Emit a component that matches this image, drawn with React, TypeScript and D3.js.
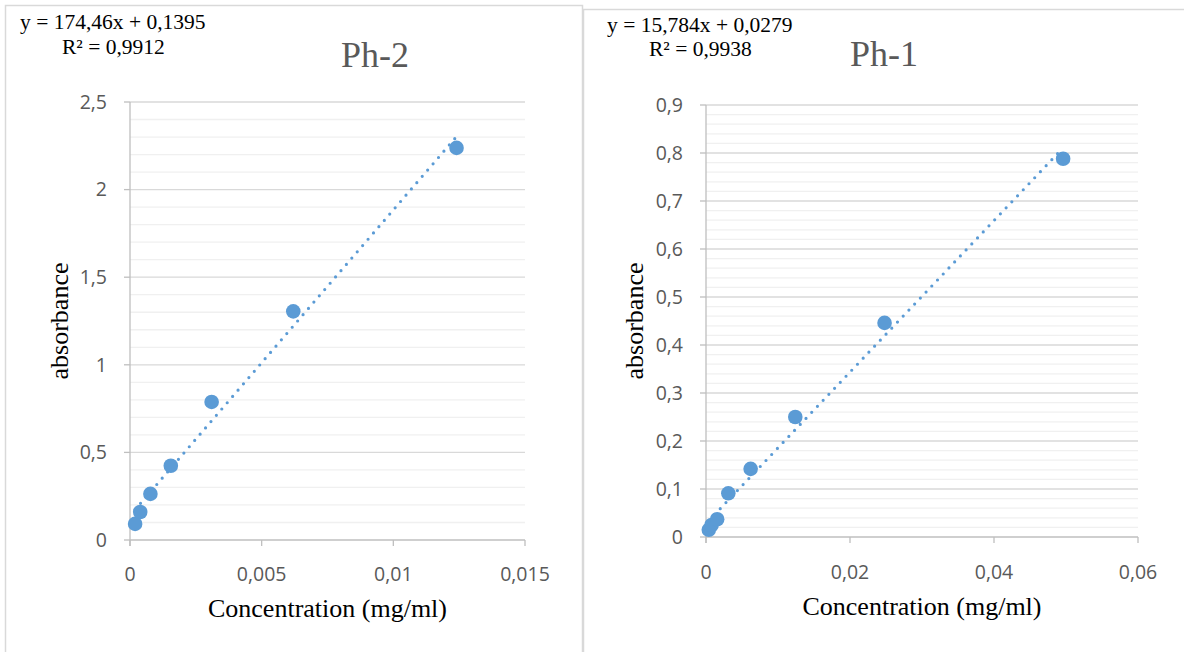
import React from "react";
import * as d3 from "d3";

// ---------- data ----------
const ph2Conc = [0.000194, 0.000388, 0.000775, 0.00155, 0.0031, 0.0062, 0.0124];
const ph2Abs = [0.092, 0.16, 0.263, 0.424, 0.788, 1.305, 2.238];
const ph2Slope = 174.46;
const ph2Intercept = 0.1395;
const ph2Equation = "y = 174,46x + 0,1395";
const ph2R2 = "R² = 0,9912";
const ph2Title = "Ph-2";
const ph2XTicks = [0, 0.005, 0.01, 0.015];
const ph2YTicks = [0, 0.5, 1, 1.5, 2, 2.5];

const ph1Conc = [0.000388, 0.000775, 0.00155, 0.0031, 0.0062, 0.0124, 0.0248, 0.0496];
const ph1Abs = [0.015, 0.025, 0.037, 0.091, 0.142, 0.25, 0.446, 0.788];
const ph1Slope = 15.784;
const ph1Intercept = 0.0279;
const ph1Equation = "y = 15,784x + 0,0279";
const ph1R2 = "R² = 0,9938";
const ph1Title = "Ph-1";
const ph1XTicks = [0, 0.02, 0.04, 0.06];
const ph1YTicks = [0, 0.1, 0.2, 0.3, 0.4, 0.5, 0.6, 0.7, 0.8, 0.9];

const xLabel = "Concentration (mg/ml)";
const yLabel = "absorbance";

const BLUE = "#5B9BD5";
const GREY_TEXT = "#595959";
const SANS = "'Open Sans', 'Noto Sans', sans-serif";
const SERIF = "'Liberation Serif', 'DejaVu Serif', serif";

const fmt = (v: number) => String(+v.toFixed(4)).replace(".", ",");

type ChartProps = {
  xs: number[];
  ys: number[];
  slope: number;
  intercept: number;
  eq: string;
  r2: string;
  title: string;
  xTicks: number[];
  yTicks: number[];
  minorStep: number;
  x0: number;
  x1: number;
  yTop: number;
  yBottom: number;
  eqX: number;
  eqY: number;
  r2X: number;
  r2Y: number;
  titleX: number;
  titleY: number;
  xLabelY: number;
  tickLabelY: number;
  yLabelX: number;
};

function Chart(p: ChartProps) {
  const xMax = p.xTicks[p.xTicks.length - 1];
  const yMax = p.yTicks[p.yTicks.length - 1];
  const x = d3.scaleLinear().domain([0, xMax]).range([p.x0, p.x1]);
  const y = d3.scaleLinear().domain([0, yMax]).range([p.yBottom, p.yTop]);
  const minor = d3.range(0, yMax + 1e-9, p.minorStep).filter(
    (v) => !p.yTicks.some((t) => Math.abs(t - v) < 1e-9)
  );
  const xmin = d3.min(p.xs)!;
  const xmaxData = d3.max(p.xs)!;
  const line = d3
    .line<number>()
    .x((d) => x(d))
    .y((d) => y(p.slope * d + p.intercept));
  const pts = p.xs.map((v, i) => ({ x: v, y: p.ys[i] }));
  return (
    <g>
      {minor.map((v) => (
        <line key={"m" + v} x1={p.x0} x2={p.x1} y1={y(v)} y2={y(v)} stroke="#f0f0f0" strokeWidth={1.3} />
      ))}
      {p.yTicks.filter((v) => v > 0).map((v) => (
        <line key={"g" + v} x1={p.x0} x2={p.x1} y1={y(v)} y2={y(v)} stroke="#d9d9d9" strokeWidth={1.3} />
      ))}
      <line x1={p.x0} x2={p.x1} y1={y(0)} y2={y(0)} stroke="#bfbfbf" strokeWidth={1.3} />
      <line x1={p.x0} x2={p.x0} y1={p.yTop} y2={y(0) + 6} stroke="#bfbfbf" strokeWidth={1.3} />
      {p.yTicks.map((v) => (
        <line key={"yt" + v} x1={p.x0 - 6} x2={p.x0} y1={y(v)} y2={y(v)} stroke="#bfbfbf" strokeWidth={1.3} />
      ))}
      {p.xTicks.map((v) => (
        <line key={"xt" + v} x1={x(v)} x2={x(v)} y1={y(0)} y2={y(0) + 6} stroke="#bfbfbf" strokeWidth={1.3} />
      ))}
      {p.yTicks.map((v) => (
        <text key={"yl" + v} x={p.x0 - 23} y={y(v)} dy="0.35em" textAnchor="end" fontFamily={SANS} fontSize={19.5} fill={GREY_TEXT}>
          {fmt(v)}
        </text>
      ))}
      {p.xTicks.map((v) => (
        <text key={"xl" + v} x={x(v)} y={p.tickLabelY} textAnchor="middle" fontFamily={SANS} fontSize={19.5} fill={GREY_TEXT}>
          {fmt(v)}
        </text>
      ))}
      <path
        d={line([xmin, xmaxData]) || ""}
        fill="none"
        stroke={BLUE}
        strokeWidth={3.2}
        strokeDasharray="0 8.3"
        strokeLinecap="round"
      />
      {pts.map((d, i) => (
        <circle key={"c" + i} cx={x(d.x)} cy={y(d.y)} r={7.3} fill={BLUE} />
      ))}
      <text x={p.titleX} y={p.titleY} textAnchor="middle" fontFamily={SERIF} fontSize={36} fill={GREY_TEXT}>
        {p.title}
      </text>
      <text x={p.eqX} y={p.eqY} fontFamily={SERIF} fontSize={21.5} fill="#000">
        {p.eq}
      </text>
      <text x={p.r2X} y={p.r2Y} fontFamily={SERIF} fontSize={21.5} fill="#000">
        {p.r2}
      </text>
      <text x={(p.x0 + p.x1) / 2} y={p.xLabelY} textAnchor="middle" fontFamily={SERIF} fontSize={26} fill="#000">
        {xLabel}
      </text>
      <text
        transform={`translate(${p.yLabelX},${(p.yTop + p.yBottom) / 2}) rotate(-90)`}
        textAnchor="middle"
        fontFamily={SERIF}
        fontSize={26}
        fill="#000"
      >
        {yLabel}
      </text>
    </g>
  );
}

export default function App() {
  return (
    <div style={{ position: "absolute", left: 0, top: 0, width: 1184, height: 652, background: "#fff" }}>
      <svg width={1184} height={652} style={{ display: "block" }}>
        <rect x={0} y={0} width={1184} height={652} fill="#fff" />
        <rect x={5.5} y={5.5} width={577} height={700} fill="#fff" stroke="#d9d9d9" strokeWidth={1.5} />
        <rect x={583.5} y={9.5} width={700} height={700} fill="#fff" stroke="#d9d9d9" strokeWidth={1.5} />
        <Chart
          xs={ph2Conc}
          ys={ph2Abs}
          slope={ph2Slope}
          intercept={ph2Intercept}
          eq={ph2Equation}
          r2={ph2R2}
          title={ph2Title}
          xTicks={ph2XTicks}
          yTicks={ph2YTicks}
          minorStep={0.1}
          x0={130}
          x1={525}
          yTop={102}
          yBottom={540}
          eqX={20}
          eqY={29}
          r2X={62}
          r2Y={54}
          titleX={375}
          titleY={67}
          xLabelY={617}
          tickLabelY={581}
          yLabelX={68}
        />
        <Chart
          xs={ph1Conc}
          ys={ph1Abs}
          slope={ph1Slope}
          intercept={ph1Intercept}
          eq={ph1Equation}
          r2={ph1R2}
          title={ph1Title}
          xTicks={ph1XTicks}
          yTicks={ph1YTicks}
          minorStep={0.02}
          x0={706}
          x1={1138}
          yTop={105}
          yBottom={537}
          eqX={607}
          eqY={32}
          r2X={649}
          r2Y={56}
          titleX={884}
          titleY={66}
          xLabelY={615}
          tickLabelY={579}
          yLabelX={643}
        />
      </svg>
    </div>
  );
}
